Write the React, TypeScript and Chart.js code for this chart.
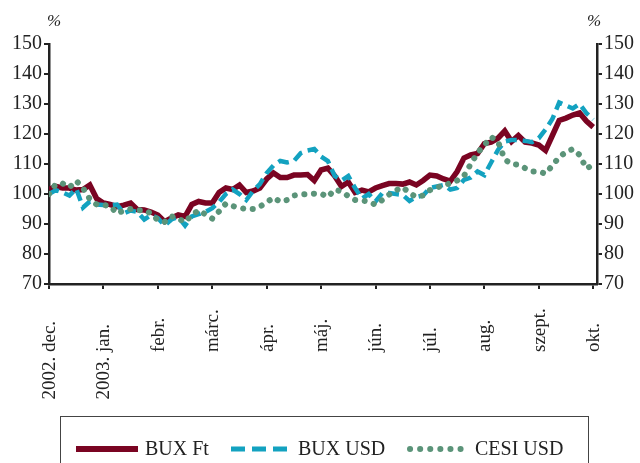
import React, { useEffect, useRef } from "react";
import { Chart, registerables } from "chart.js";

Chart.register(...registerables);

// ---- data ----
const monthLabels = ["2002. dec.", "2003. jan.", "febr.", "márc.", "ápr.", "máj.", "jún.", "júl.", "aug.", "szept.", "okt."];
const yTickValues = [70, 80, 90, 100, 110, 120, 130, 140, 150];
const samplesPerMonth = 8;
const seriesNames = ["BUX Ft", "BUX USD", "CESI USD"];

const buxFt = [
  101.5, 102.5, 102, 102, 101.3, 101.5, 103, 98.5, 97, 96.5,
  95.8, 96.3, 97, 94.8, 94.7, 94, 93, 90.8, 92, 93,
  92.5, 96.5, 97.5, 97, 97, 100.5, 102, 101.5, 103, 100.5,
  101, 102, 105, 107, 105.5, 105.5, 106.3, 106.3, 106.5, 104.5,
  108, 108.6, 106, 102.5, 104, 100.5, 101.3, 100.7, 102, 102.8,
  103.5, 103.5, 103.3, 104, 103, 104.5, 106.3, 106, 105, 104.3,
  107.5, 112, 113, 113.5, 116.8, 117.3, 118.6, 121, 117.5, 119.5,
  117.3, 117, 116.3, 114.5, 119.5, 124.5, 125.3, 126.3, 127, 124.3,
  122.3,
];

const buxUsd = [
  100, 101.3, 100.5, 99.5, 101.8, 95.5, 97.5, 96.5, 96.3, 96.3,
  96.5, 93.6, 94.5, 94, 91.5, 93, 92, 89.5, 91.5, 92.3,
  89.5, 92.5, 93.3, 94, 95.3, 97.3, 100, 101.5, 100, 98,
  101, 103.3, 107, 109.5, 111, 110.5, 111, 113.6, 114.5, 115,
  112.5, 111, 106, 104.5, 106, 102, 98.5, 100, 97.5, 100.3,
  100.3, 100, 99.7, 97.7, 99, 99.5, 102, 102.5, 103, 101.5,
  102, 104.7, 105.5, 107.5, 106.3, 110.5, 114.7, 117.5, 118, 118,
  117.7, 117.3, 118.6, 121.5, 125, 130.5, 129.5, 128.5, 130, 127,
  124.8,
];

const cesiUsd = [
  100, 103.3, 103.5, 102.2, 104.4, 102, 98.3, 96.5, 96.3, 96,
  93.5, 94.5, 95, 94.6, 94.6, 93.5, 91.3, 90.7, 92.6, 91.8,
  90.6, 93, 94.6, 93.2, 91.8, 94.2, 96.8, 96, 95.4, 95,
  95, 95.8, 97.2, 98.8, 97.4, 98, 99.5, 99.8, 100, 100.1,
  100.1, 99, 101.5, 100.8, 99.3, 98, 97.8, 97.5, 96.4, 98,
  99.8, 101.2, 102.3, 100.3, 99, 99.5, 101.3, 102.2, 102.8, 103.6,
  104.5, 106, 110, 113.7, 116.3, 119, 117.5, 111.5, 110, 109.8,
  108.6, 107.5, 107.5, 106.8, 109.5, 112.3, 114, 115, 113, 108.5,
  109.7,
];

const COLORS = { red: "#7a0422", teal: "#13a2c0", green: "#5b9479", axis: "#222222" };
const FONT = '"Liberation Serif", "Times New Roman", serif';

const toPoints = (arr: number[]) => arr.map((v, i) => ({ x: i / samplesPerMonth, y: v }));

const overlayPlugin = {
  id: "overlay",
  afterDraw(chart: any) {
    const ctx = chart.ctx as CanvasRenderingContext2D;
    const xs = chart.scales.x;
    ctx.save();
    // x labels (rotated)
    ctx.fillStyle = COLORS.axis;
    ctx.font = `19px ${FONT}`;
    ctx.textBaseline = "middle";
    ctx.textAlign = "left";
    const monthStart = 352;
    monthLabels.forEach((lab, i) => {
      const px = xs.getPixelForValue(i);
      const parts = lab.split(" ");
      const month = parts[parts.length - 1];
      const prefix = lab.slice(0, lab.length - month.length);
      const start = monthStart + ctx.measureText(prefix).width;
      ctx.save();
      ctx.translate(px + 1, start);
      ctx.rotate(-Math.PI / 2);
      ctx.fillText(lab, 0, 0);
      ctx.restore();
    });
    // % unit labels
    ctx.font = `italic 17px ${FONT}`;
    ctx.textAlign = "center";
    ctx.fillText("%", 54, 22);
    ctx.fillText("%", 594, 22);

    // legend
    ctx.strokeStyle = "#444";
    ctx.lineWidth = 1;
    ctx.strokeRect(60.5, 416.5, 528, 80);
    const ly = 449;
    ctx.lineCap = "butt";
    ctx.setLineDash([]);
    ctx.strokeStyle = COLORS.red;
    ctx.lineWidth = 6;
    ctx.beginPath(); ctx.moveTo(76, ly); ctx.lineTo(138, ly); ctx.stroke();
    ctx.strokeStyle = COLORS.teal;
    ctx.lineWidth = 5;
    ctx.setLineDash([14, 7]);
    ctx.beginPath(); ctx.moveTo(231, ly); ctx.lineTo(288, ly); ctx.stroke();
    ctx.strokeStyle = COLORS.green;
    ctx.lineWidth = 6;
    ctx.lineCap = "round";
    ctx.setLineDash([0.1, 10]);
    ctx.beginPath(); ctx.moveTo(410, ly); ctx.lineTo(470, ly); ctx.stroke();
    ctx.setLineDash([]);
    ctx.font = `20px ${FONT}`;
    ctx.textAlign = "left";
    ctx.fillStyle = COLORS.axis;
    ctx.fillText(seriesNames[0], 145, ly + 1);
    ctx.fillText(seriesNames[1], 298, ly + 1);
    ctx.fillText(seriesNames[2], 475, ly + 1);
    ctx.restore();
  },
};

export default function App() {
  const ref = useRef<HTMLCanvasElement | null>(null);
  useEffect(() => {
    if (!ref.current) return;
    const yAxis = (position: "left" | "right", width: number) => ({
      type: "linear" as const,
      position,
      min: 70,
      max: 150,
      afterBuildTicks: (s: any) => {
        s.ticks = yTickValues.map((v) => ({ value: v }));
      },
      afterFit: (s: any) => {
        s.width = width;
      },
      border: { display: true, color: COLORS.axis, width: 2.5 },
      grid: { display: true, drawOnChartArea: false, drawTicks: true, tickLength: 5, color: COLORS.axis, lineWidth: 2 },
      ticks: { color: COLORS.axis, padding: 2, font: { family: FONT, size: 20 } },
    });
    const chart = new Chart(ref.current, {
      type: "line",
      data: {
        datasets: [
          {
            label: seriesNames[0],
            data: toPoints(buxFt),
            borderColor: COLORS.red,
            borderWidth: 5.5,
            pointRadius: 0,
            tension: 0,
            order: 2,
            yAxisID: "y",
          },
          {
            label: seriesNames[1],
            data: toPoints(buxUsd),
            borderColor: COLORS.teal,
            borderWidth: 4.5,
            borderDash: [11, 6],
            pointRadius: 0,
            tension: 0,
            order: 1,
            yAxisID: "y",
          },
          {
            label: seriesNames[2],
            data: toPoints(cesiUsd),
            borderColor: COLORS.green,
            borderWidth: 6,
            borderDash: [0.1, 9.5],
            borderCapStyle: "round",
            pointRadius: 0,
            tension: 0,
            order: 0,
            yAxisID: "y",
          },
        ],
      },
      options: {
        animation: false,
        responsive: false,
        layout: { padding: { top: 44, left: 0, right: 0, bottom: 0 } },
        plugins: { legend: { display: false }, tooltip: { enabled: false }, title: { display: false } },
        scales: {
          x: {
            type: "linear",
            position: "bottom",
            min: 0,
            max: 10.07,
            afterBuildTicks: (s: any) => {
              s.ticks = monthLabels.map((_, i) => ({ value: i }));
            },
            afterFit: (s: any) => {
              s.height = 179;
            },
            border: { display: true, color: COLORS.axis, width: 2.5 },
            grid: { display: true, drawOnChartArea: false, drawTicks: true, tickLength: 5, color: COLORS.axis, lineWidth: 2 },
            ticks: { display: false },
          },
          y: yAxis("left", 49),
          y2: yAxis("right", 43),
        },
      },
      plugins: [overlayPlugin],
    });
    return () => chart.destroy();
  }, []);
  return (
    <div style={{ position: "fixed", left: 0, top: 0, width: 640, height: 463, background: "#fff" }}>
      <canvas ref={ref} width={640} height={463} style={{ width: 640, height: 463, display: "block" }} />
    </div>
  );
}
